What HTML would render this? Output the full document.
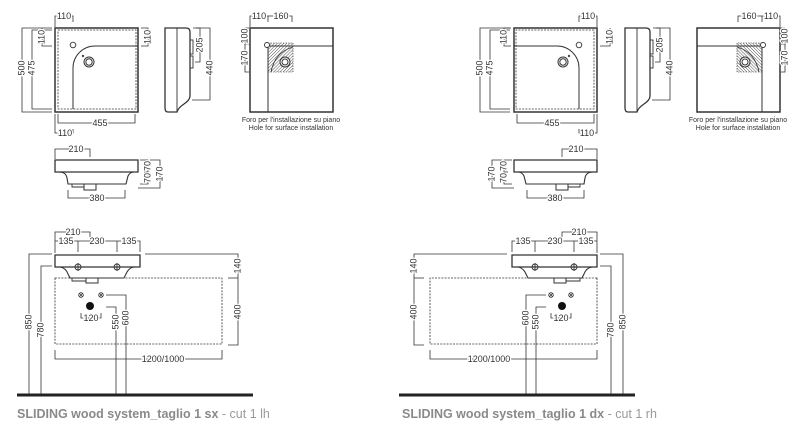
<!DOCTYPE html>
<html><head><meta charset="utf-8"><style>
html,body{margin:0;padding:0;background:#fff;width:800px;height:428px;overflow:hidden}
svg{display:block}
text{font-family:"Liberation Sans",sans-serif;font-size:9px;fill:#333;stroke:#fff;stroke-width:2.5px;paint-order:stroke;text-anchor:middle}
.r{dominant-baseline:middle}
.cap{font-size:7px;stroke:none}
</style></head><body>
<svg width="800" height="428" viewBox="0 0 800 428" xmlns="http://www.w3.org/2000/svg">
<defs>
<pattern id="h" width="2.2" height="2.2" patternUnits="userSpaceOnUse" patternTransform="rotate(45)">
<line x1="0" y1="0" x2="0" y2="2.2" stroke="#444" stroke-width="0.9"/></pattern>
<g id="top" fill="none" stroke="#333">
<rect x="55" y="28" width="83" height="84" stroke-width="1.5"/>
<rect x="58" y="30" width="78" height="79" stroke-width="0.8" stroke-dasharray="2,1.2"/>
<path d="M73,109 V68 A22,22 0 0 1 95,46 H138" stroke-width="1"/>
<circle cx="73" cy="45" r="2.8" stroke-width="0.9"/>
<circle cx="89" cy="62" r="5" stroke-width="1"/>
<circle cx="89" cy="62" r="3.2" stroke-width="1"/>
<circle cx="83" cy="56" r="0.8" stroke-width="0.8"/>
<g stroke-width="0.8">
<path d="M55,27 V16 H73 V22"/>
<path d="M52,46 H42 V28"/>
<path d="M141,28 H148 V46 H141"/>
<path d="M58,114 V123 H135 V114"/>
<path d="M55,114 V133 H73 V129"/>
</g></g>
<g id="vd" fill="none" stroke="#333" stroke-width="0.8">
<path d="M52,28 H22 V112 H52"/><path d="M52,30 H32 V109 H52"/>
</g>
<g id="side" fill="none" stroke="#333">
<path d="M165,28 H186 Q190,28 190,32 V96 Q190,100 184,104 Q178,108 177,112 H168 Q165,112 165,108 Z" stroke-width="1.3"/>
<path d="M177,28 V112" stroke-width="0.9"/>
<rect x="190" y="40" width="3" height="14" stroke-width="0.9"/>
<rect x="190" y="56" width="3" height="12" stroke-width="0.9"/>
<g stroke-width="0.8"><path d="M193,28 H200 V62 H195"/><path d="M196,28 H210 V100 H192"/></g>
</g>
<g id="hat" fill="none" stroke="#333">
<rect x="268" y="43" width="25" height="29" fill="url(#h)" stroke-width="0.6" stroke-dasharray="1.5,1"/>
<rect x="250" y="28" width="83" height="84" stroke-width="1.5"/>
<path d="M268,112 V46 H333" stroke-width="1"/>
<circle cx="267" cy="45" r="2.5" fill="#fff" stroke-width="0.9"/>
<circle cx="285" cy="62" r="5" fill="#fff" stroke-width="1"/>
<circle cx="285" cy="62" r="3" stroke-width="1"/>
<path d="M271,72 Q275,52 293,47" stroke-width="0.9"/>
<g stroke-width="0.8">
<path d="M250,27 V16 H268 V22"/><path d="M268,16 H292 V22"/>
<path d="M249,28 H245 V44 H249"/><path d="M245,44 V72 H249"/>
</g></g>
<g id="front" fill="none" stroke="#333">
<path d="M55,160 H138 V172 H55 Z" stroke-width="1.3"/>
<path d="M59,172 Q66,172 67,178 L68,184 H126 L128,176 Q130,172 134,172" stroke-width="1.1"/>
<rect x="84" y="184" width="12" height="6" stroke-width="1"/>
<path d="M72,184 V187 H84" stroke-width="0.9"/>
<g stroke-width="0.8">
<path d="M55,159 V149 H90 V157"/><path d="M68,190 V198 H125 V190"/>
<path d="M140,160 H148 V184 H140"/><path d="M144,172 H148"/><path d="M150,160 H160 V188 H138"/>
</g></g>
<g id="elev" fill="none" stroke="#333">
<path d="M55,255 H140 V267 H55 Z" stroke-width="1.3"/>
<path d="M60,267 Q66,268 68,274 L70,278 H124 L127,272 Q130,267 135,267" stroke-width="1.1"/>
<rect x="86" y="278" width="12" height="5" stroke-width="1"/>
<path d="M72,278 V281 H86" stroke-width="0.9"/>
<g stroke-width="0.9">
<circle cx="78" cy="267" r="3"/><path d="M74,267 H82 M78,263 V271"/>
<circle cx="117" cy="267" r="3"/><path d="M113,267 H121 M117,263 V271"/>
</g>
<rect x="55" y="278" width="167" height="66" stroke-width="0.8" stroke-dasharray="2,1.2"/>
<g stroke-width="0.8">
<path d="M55,253 V232 H90 V237"/>
<path d="M55,241 H140 V252 M78,241 V252 M117,241 V252"/>
<path d="M145,254 H238 V345 H228"/><path d="M228,278 H238"/>
<path d="M55,350 V359 H222 V350"/>
<circle cx="81" cy="295" r="2.3"/><path d="M79.5,293.5 L82.5,296.5 M82.5,293.5 L79.5,296.5"/>
<circle cx="101" cy="295" r="2.3"/><path d="M99.5,293.5 L102.5,296.5 M102.5,293.5 L99.5,296.5"/>
<path d="M81,313 V318 H101 V313"/>
<path d="M106,307 H116 V395"/><path d="M106,295 H126 V395"/>
<path d="M52,254 H29 V395"/><path d="M52,266 H41 V395"/>
</g>
<circle cx="90" cy="306" r="4" fill="#111" stroke="none"/>
<path d="M17,395 H253" stroke="#222" stroke-width="3"/>
</g>
</defs>

<use href="#top"/><use href="#vd"/><use href="#side"/><use href="#hat"/><use href="#front"/><use href="#elev"/>
<use href="#top" transform="translate(652,0) scale(-1,1)"/>
<use href="#vd" transform="translate(458,0)"/>
<use href="#side" transform="translate(460,0)"/>
<use href="#hat" transform="translate(1030,0) scale(-1,1)"/>
<use href="#front" transform="translate(652,0) scale(-1,1)"/>
<use href="#elev" transform="translate(652,0) scale(-1,1)"/>

<text x="64" y="19">110</text>
<text class="r" transform="translate(22,68) rotate(-90)">500</text>
<text class="r" transform="translate(32,68) rotate(-90)">475</text>
<text class="r" transform="translate(42,37) rotate(-90)">110</text>
<text class="r" transform="translate(148,37) rotate(-90)">110</text>
<text x="100" y="126">455</text>
<text x="65" y="136">110</text>
<text class="r" transform="translate(200,45) rotate(-90)">205</text>
<text class="r" transform="translate(210,68) rotate(-90)">440</text>
<text x="259" y="19">110</text>
<text x="281" y="19">160</text>
<text class="r" transform="translate(245,36) rotate(-90)">100</text>
<text class="r" transform="translate(245,58) rotate(-90)">170</text>
<text class="cap" x="291" y="122">Foro per l'installazione su piano</text>
<text class="cap" x="291" y="130">Hole for surface installation</text>
<text x="76" y="152">210</text>
<text x="97" y="201">380</text>
<text class="r" transform="translate(148,166) rotate(-90)">70</text>
<text class="r" transform="translate(148,178) rotate(-90)">70</text>
<text class="r" transform="translate(160,174) rotate(-90)">170</text>
<text x="73" y="235">210</text>
<text x="66" y="244">135</text>
<text x="97" y="244">230</text>
<text x="129" y="244">135</text>
<text class="r" transform="translate(238,266) rotate(-90)">140</text>
<text class="r" transform="translate(238,312) rotate(-90)">400</text>
<text x="163" y="362">1200/1000</text>
<text x="91" y="321">120</text>
<text class="r" transform="translate(116,322) rotate(-90)">550</text>
<text class="r" transform="translate(126,318) rotate(-90)">600</text>
<text class="r" transform="translate(29,322) rotate(-90)">850</text>
<text class="r" transform="translate(41,330) rotate(-90)">780</text>

<text x="588" y="19">110</text>
<text class="r" transform="translate(480,68) rotate(-90)">500</text>
<text class="r" transform="translate(490,68) rotate(-90)">475</text>
<text class="r" transform="translate(610,37) rotate(-90)">110</text>
<text class="r" transform="translate(504,37) rotate(-90)">110</text>
<text x="552" y="126">455</text>
<text x="587" y="136">110</text>
<text class="r" transform="translate(660,45) rotate(-90)">205</text>
<text class="r" transform="translate(670,68) rotate(-90)">440</text>
<text x="771" y="19">110</text>
<text x="749" y="19">160</text>
<text class="r" transform="translate(785,36) rotate(-90)">100</text>
<text class="r" transform="translate(785,58) rotate(-90)">170</text>
<text class="cap" x="738" y="122">Foro per l'installazione su piano</text>
<text class="cap" x="738" y="130">Hole for surface installation</text>
<text x="576" y="152">210</text>
<text x="555" y="201">380</text>
<text class="r" transform="translate(504,166) rotate(-90)">70</text>
<text class="r" transform="translate(504,178) rotate(-90)">70</text>
<text class="r" transform="translate(492,174) rotate(-90)">170</text>
<text x="579" y="235">210</text>
<text x="586" y="244">135</text>
<text x="555" y="244">230</text>
<text x="523" y="244">135</text>
<text class="r" transform="translate(414,266) rotate(-90)">140</text>
<text class="r" transform="translate(414,312) rotate(-90)">400</text>
<text x="489" y="362">1200/1000</text>
<text x="561" y="321">120</text>
<text class="r" transform="translate(536,322) rotate(-90)">550</text>
<text class="r" transform="translate(526,318) rotate(-90)">600</text>
<text class="r" transform="translate(623,322) rotate(-90)">850</text>
<text class="r" transform="translate(611,330) rotate(-90)">780</text>

<text x="17" y="418" style="font-size:12.5px;text-anchor:start;stroke:none;fill:#8a8a8a;font-weight:bold">SLIDING wood system_taglio 1 sx<tspan style="font-weight:normal;fill:#9a9a9a"> - cut 1 lh</tspan></text>
<text x="402" y="418" style="font-size:12.5px;text-anchor:start;stroke:none;fill:#8a8a8a;font-weight:bold">SLIDING wood system_taglio 1 dx<tspan style="font-weight:normal;fill:#9a9a9a"> - cut 1 rh</tspan></text>
</svg>
</body></html>
